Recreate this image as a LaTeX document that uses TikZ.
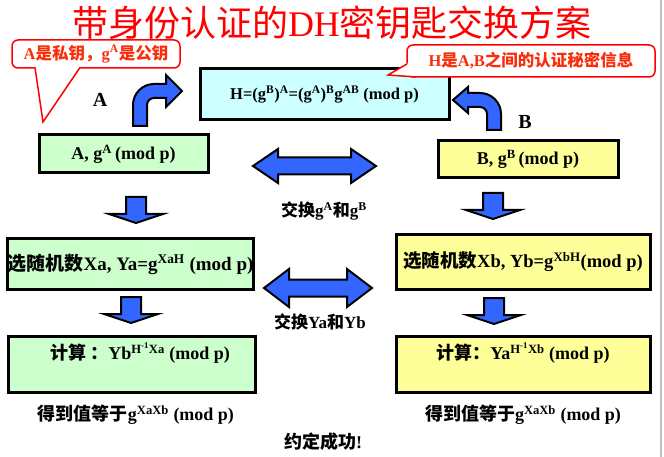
\documentclass[tikz,border=0pt]{standalone}
\usepackage{fontspec}
\setmainfont{Liberation Serif}
\newfontfamily\cjk{Noto Sans CJK SC}
\newcommand{\zh}[1]{{\cjk #1}}
\usetikzlibrary{calc}
\definecolor{arrowblue}{RGB}{51,102,255}
\definecolor{boxgreen}{RGB}{204,255,204}
\definecolor{boxyellow}{RGB}{255,255,153}
\definecolor{boxcyan}{RGB}{204,255,255}
\definecolor{notered}{RGB}{250,45,10}
\tikzset{
  stepbox/.style={draw, line width=3pt, inner sep=0pt, font=\bfseries\fontsize{18}{20}\selectfont},
  greenbox/.style={stepbox, fill=boxgreen},
  yellowbox/.style={stepbox, fill=boxyellow},
  cyanbox/.style={stepbox, fill=boxcyan},
  note/.style={draw=red, line width=1.5pt, fill=white, rounded corners=6pt, text=notered,
    inner sep=0pt, font=\bfseries\fontsize{16.5}{18}\selectfont},
  blockarrow/.style={fill=arrowblue, draw=black, line width=2pt, line join=miter},
  lbl/.style={font=\bfseries\fontsize{17}{19}\selectfont}
}

\begin{document}
\begin{tikzpicture}[x=1pt,y=-1pt]
\useasboundingbox (0,0) rectangle (664,457);
% slide edge
\draw [black!25, line width=1.5pt] (661,0) -- (661,457);
% title
\node [text=red, font=\fontsize{36}{40}\selectfont] (title) at (332,23)
  {\zh{带身份认证的}DH\zh{密钥匙交换方案}};
% parties
\node [font=\bfseries\fontsize{20}{22}\selectfont] (namea) at (100,100) {A};
\node [font=\bfseries\fontsize{20}{22}\selectfont] (nameb) at (525,122) {B};
% shared secret
\node [cyanbox, minimum width=249, minimum height=51, font=\bfseries\fontsize{16.5}{18}\selectfont] (hbox) at (324.5,94.5)
  {H=(g\textsuperscript{B})\textsuperscript{A}=(g\textsuperscript{A})\textsuperscript{B}g\textsuperscript{AB} (mod p)};
% notes
\node [note, minimum width=168, minimum height=28] (notea) at (96,54)
  {A\zh{是私钥，}g\textsuperscript{A}\zh{是公钥}};
\fill [white] (35.2,67) -- (43,122) -- (79.8,67) -- cycle;
\draw [red, line width=1.5pt, line join=miter] (35,67.5) -- (43,122) -- (80,67.5);
\node [note, minimum width=248, minimum height=32] (noteh) at (531,61)
  {H\zh{是}A,B\zh{之间的认证秘密信息}};
\fill [white] (408.5,63) -- (388,75) -- (416,76) -- (416,63) -- cycle;
\draw [red, line width=1.5pt, line join=miter] (407,64) -- (388,75) -- (416,77);
% curved arrows into H
\draw [blockarrow] (133,126) -- (133,105) arc [start angle=180, end angle=270, radius=21]
  -- (166,84) -- (166,75) -- (182,91) -- (166,107) -- (166,98) -- (154,98)
  arc [start angle=270, end angle=180, radius=7] -- (147,126) -- cycle;
\draw [blockarrow] (501,130) -- (501,114) arc [start angle=0, end angle=-90, radius=21]
  -- (468,93) -- (468,87) -- (453,100) -- (468,113) -- (468,107) -- (480,107)
  arc [start angle=-90, end angle=0, radius=7] -- (487,130) -- cycle;
% first row
\node [greenbox, minimum width=169, minimum height=38] (puba) at (123.5,154)
  {A, g\textsuperscript{A}\,(mod p)};
\node [yellowbox, minimum width=180, minimum height=37] (pubb) at (528,159.5)
  {B, g\textsuperscript{B}\,(mod p)};
% second row
\node [greenbox, minimum width=245, minimum height=50, font=\bfseries\fontsize{19}{21}\selectfont] (randa) at (130.5,264)
  {\zh{选随机数}Xa, Ya=g\textsuperscript{XaH} (mod p)};
\node [yellowbox, minimum width=254, minimum height=54, font=\bfseries\fontsize{18.5}{21}\selectfont] (randb) at (523,262)
  {\zh{选随机数}Xb, Yb=g\textsuperscript{XbH}(mod p)};
% third row
\node [greenbox, minimum width=247, minimum height=56] (calca) at (131.5,364) {};
\node [lbl, font=\bfseries\fontsize{18}{20}\selectfont] (calcatext) at (140,353)
  {\zh{计算 ：}Yb\textsuperscript{H\textsuperscript{-1}Xa} (mod p)};
\node [yellowbox, minimum width=254, minimum height=56] (calcb) at (523,364) {};
\node [lbl, font=\bfseries\fontsize{18}{20}\selectfont] (calcbtext) at (523,353)
  {\zh{计算：}Ya\textsuperscript{H\textsuperscript{-1}Xb} (mod p)};
% exchange arrows
\foreach \cx/\cy/\len/\w in {314.5/166/61.5/17, 318/288/54/19}
  \draw [blockarrow] (\cx-\len,\cy) -- (\cx-\len+25,\cy-\w) -- (\cx-\len+25,\cy-8.5)
    -- (\cx+\len-25,\cy-8.5) -- (\cx+\len-25,\cy-\w) -- (\cx+\len,\cy)
    -- (\cx+\len-25,\cy+\w) -- (\cx+\len-25,\cy+8.5) -- (\cx-\len+25,\cy+8.5)
    -- (\cx-\len+25,\cy+\w) -- cycle;
\node [lbl] (swapg) at (324,211) {\zh{交换}g\textsuperscript{A}\zh{和}g\textsuperscript{B}};
\node [lbl] (swapy) at (320,322) {\zh{交换}Ya\zh{和}Yb};
% down arrows
\foreach \cx/\ty in {136/197, 131/297, 493/193, 494/298}
  \draw [blockarrow] (\cx-10,\ty) -- (\cx+10,\ty) -- (\cx+10,\ty+17) -- (\cx+27,\ty+17)
    -- (\cx,\ty+26) -- (\cx-27,\ty+17) -- (\cx-10,\ty+17) -- cycle;
% results
\node [lbl, font=\bfseries\fontsize{18}{20}\selectfont] (resa) at (136,415)
  {\zh{得到值等于}g\textsuperscript{XaXb} (mod p)};
\node [lbl, font=\bfseries\fontsize{18}{20}\selectfont] (resb) at (523,415)
  {\zh{得到值等于}g\textsuperscript{XaXb} (mod p)};
\node [lbl, font=\bfseries\fontsize{18}{20}\selectfont] (done) at (323,442) {\zh{约定成功}!};
\end{tikzpicture}
\end{document}
